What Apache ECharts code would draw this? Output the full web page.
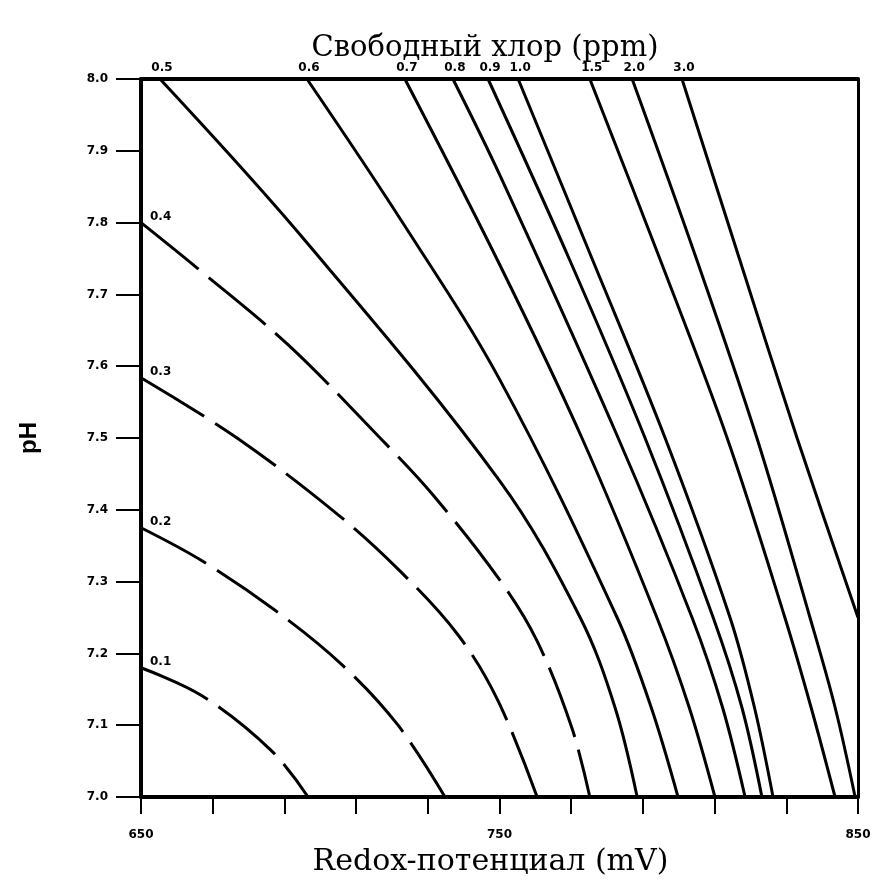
<!DOCTYPE html>
<html>
<head>
<meta charset="utf-8">
<title>Свободный хлор</title>
<script src="https://cdn.jsdelivr.net/npm/echarts@6/dist/echarts.min.js"></script>
<style>
  html, body { margin: 0; padding: 0; background: #fff; }
  #main { width: 876px; height: 886px; }
</style>
</head>
<body>
<div id="main"></div>
<script>
  // изолинии свободного хлора: [Redox mV, pH]
  // пунктир (0.1 - 0.4) идёт от левой оси вниз, сплошные - снизу вверх
  var c01 = [[650, 7.18], [667.0, 7.141], [686.5, 7.064], [696.6, 7.0]];
  var c02 = [[650, 7.375], [667.0, 7.329], [687.4, 7.26], [706.1, 7.184], [721.7, 7.10], [734.8, 7.0]];
  var c03 = [[650, 7.584], [676.8, 7.5], [705.0, 7.393], [722.2, 7.315], [738.4, 7.226], [749.6, 7.134], [760.5, 7.0]];
  var c04 = [[650, 7.80], [665.6, 7.737], [691.0, 7.63], [716.7, 7.5], [731.4, 7.421], [750.1, 7.302], [760.5, 7.217], [770.2, 7.096], [775.2, 7.0]];
  var c05 = [[788.4, 7.0], [782.2, 7.125], [772.5, 7.25], [750.1, 7.44], [694.4, 7.783], [655.3, 8.0]];
  var c06 = [[799.8, 7.0], [792.3, 7.125], [782.8, 7.25], [750.1, 7.581], [722.2, 7.806], [696.3, 8.0]];
  var c07 = [[810.1, 7.0], [802.9, 7.125], [793.9, 7.25], [773.0, 7.5], [750.1, 7.741], [723.6, 8.0]];
  var c08 = [[818.5, 7.0], [812.2, 7.125], [803.7, 7.25], [783.1, 7.5], [750.1, 7.866], [737.0, 8.0]];
  var c09 = [[823.2, 7.0], [817.6, 7.125], [809.6, 7.25], [790.6, 7.5], [769.4, 7.75], [746.8, 8.0]];
  var c10 = [[826.3, 7.0], [821.1, 7.125], [814.3, 7.25], [796.2, 7.5], [775.8, 7.75], [755.2, 8.0]];
  var c15 = [[843.6, 7.0], [836.9, 7.125], [829.6, 7.25], [813.5, 7.5], [794.7, 7.75], [775.2, 8.0]];
  var c20 = [[849.2, 7.0], [843.6, 7.125], [836.6, 7.25], [821.8, 7.5], [804.9, 7.75], [787.0, 8.0]];
  var c30 = [[850, 7.25], [833.0, 7.5], [816.9, 7.75], [800.9, 8.0]];

  var dashedNames = ['0.1', '0.2', '0.3', '0.4'];
  var dashedLines = [c01, c02, c03, c04];
  var solidNames = ['0.5', '0.6', '0.7', '0.8', '0.9', '1.0', '1.5', '2.0', '3.0'];
  var solidLines = [c05, c06, c07, c08, c09, c10, c15, c20, c30];

  var xTickLabels = [650, 750, 850];

  var labelFont = {
    color: '#000',
    fontFamily: 'DejaVu Sans',
    fontWeight: 'bold',
    fontSize: 12
  };

  var series = [];
  dashedLines.forEach(function (d, i) {
    series.push({
      name: dashedNames[i],
      type: 'line',
      data: d,
      smooth: 0.35,
      symbol: 'none',
      lineStyle: { color: '#000', width: 3, type: [74, 13] },
      // подпись у левой оси
      markPoint: {
        symbol: 'circle',
        symbolSize: 0,
        silent: true,
        data: [{ coord: d[0] }],
        label: Object.assign({
          show: true,
          formatter: dashedNames[i],
          position: 'right',
          distance: 9,
          offset: [0, -6]
        }, labelFont)
      }
    });
  });
  solidLines.forEach(function (d, i) {
    series.push({
      name: solidNames[i],
      type: 'line',
      data: d,
      smooth: 0.35,
      symbol: 'none',
      lineStyle: { color: '#000', width: 3, type: 'solid' },
      // подписи над верхней рамкой
      endLabel: Object.assign({
        show: true,
        formatter: '{a}',
        align: 'center',
        verticalAlign: 'bottom',
        distance: 0,
        offset: [2, -5]
      }, labelFont)
    });
  });

  var chart = echarts.init(document.getElementById('main'));
  var option = {
    animation: false,
    backgroundColor: '#fff',
    title: {
      text: 'Свободный хлор (ppm)',
      left: 480,
      textAlign: 'center',
      top: 29,
      textStyle: {
        fontFamily: 'DejaVu Serif',
        fontWeight: 'normal',
        fontSize: 29,
        color: '#000'
      }
    },
    grid: { left: 141, right: 18, top: 79, bottom: 89 },
    xAxis: [{
      type: 'value',
      min: 650,
      max: 850,
      interval: 20,
      position: 'bottom',
      name: 'Redox-потенциал (mV)',
      nameLocation: 'middle',
      nameGap: 50,
      nameTextStyle: {
        fontFamily: 'DejaVu Serif',
        fontSize: 30,
        color: '#000',
        padding: [0, 0, 0, -18]
      },
      axisLine: { lineStyle: { color: '#000', width: 4 } },
      axisTick: { length: 17, lineStyle: { color: '#000', width: 2 } },
      axisLabel: Object.assign({
        margin: 32,
        formatter: function (v) {
          return xTickLabels.indexOf(v) >= 0 ? String(v) : '';
        }
      }, labelFont),
      splitLine: { show: false }
    }, {
      type: 'value',
      min: 650,
      max: 850,
      position: 'top',
      axisLine: { lineStyle: { color: '#000', width: 4 } },
      axisTick: { show: false },
      axisLabel: { show: false },
      splitLine: { show: false }
    }],
    yAxis: [{
      type: 'value',
      min: 7.0,
      max: 8.0,
      interval: 0.1,
      position: 'left',
      name: 'pH',
      nameLocation: 'middle',
      nameGap: 100,
      nameTextStyle: {
        fontFamily: 'Liberation Sans',
        fontWeight: 'bold',
        fontSize: 24,
        color: '#000'
      },
      axisLine: { lineStyle: { color: '#000', width: 4 } },
      axisTick: { length: 25, lineStyle: { color: '#000', width: 2 } },
      axisLabel: Object.assign({
        margin: 33,
        formatter: function (v) { return v.toFixed(1); }
      }, labelFont),
      splitLine: { show: false }
    }, {
      type: 'value',
      min: 7.0,
      max: 8.0,
      position: 'right',
      axisLine: { lineStyle: { color: '#000', width: 3 } },
      axisTick: { show: false },
      axisLabel: { show: false },
      splitLine: { show: false }
    }],
    series: series
  };
  chart.setOption(option);
</script>
</body>
</html>
